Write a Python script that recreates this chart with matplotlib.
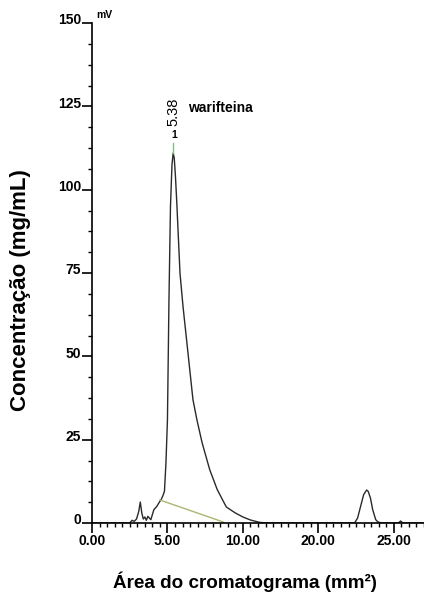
"""
Cromatograma da warifteina (reconstrucao do grafico).
"""

import matplotlib
matplotlib.use('Agg')
import matplotlib.pyplot as plt
import matplotlib.transforms as mtransforms
from matplotlib.ticker import MultipleLocator, FixedLocator

# sinal do detector (mV)
x_sig = [0.0, 2.5, 2.65, 2.8, 2.95, 3.1, 3.2, 3.3, 3.4, 3.5, 3.6, 3.7, 3.8, 3.9,
         4.0, 4.1, 4.2, 4.3, 4.4, 4.5, 4.6, 4.7, 4.8, 4.9, 5.0, 5.1, 5.2, 5.3,
         5.38, 5.45, 5.53, 5.62, 5.72, 5.83, 6.03, 6.36, 6.69, 6.95, 7.3, 7.8,
         8.3, 8.9, 9.5, 10.0, 10.5, 11.1, 11.5, 17.4, 17.6, 17.8, 18.0, 18.2,
         18.3, 18.45, 18.6, 18.8, 18.95, 19.2, 20.3, 20.45, 20.6, 22.0]
y_sig = [0.0, 0.0, 0.8, 0.5, 1.2, 3.5, 6.3, 3.0, 1.2, 1.8, 0.8, 2.0, 1.5, 1.0,
         2.5, 4.0, 4.5, 5.0, 5.8, 6.5, 7.2, 8.2, 9.5, 18.0, 31.0, 67.0, 95.0, 107.5,
         111.0, 109.5, 104.0, 96.0, 86.0, 75.0, 65.0, 51.0, 37.0, 31.0, 24.0, 16.0,
         10.0, 4.8, 3.0, 1.8, 0.9, 0.2, 0.0, 0.0, 1.5, 5.0, 8.5, 9.9,
         9.5, 7.5, 4.0, 1.0, 0.3, 0.0, 0.0, 0.6, 0.0, 0.0]

# linha de base do pico integrado
x_base = [4.5, 8.7]
y_base = [6.9, 0.3]

peak_rt = 5.38
peak_top = 111.0
peak_name = 'warifteina'

xtick_pos = [0, 5, 10, 15, 20]
xtick_lab = ['0.00', '5.00', '10.00', '20.00', '25.00']
ytick_pos = [0, 25, 50, 75, 100, 125, 150]

plt.rcParams['font.family'] = ['Liberation Sans', 'DejaVu Sans']

fig = plt.figure(figsize=(4.24, 5.97), dpi=100)
ax = fig.add_axes([92/424, 74/597, 332/424, 500/597])

ax.plot(x_sig, y_sig, color='#2a2a2a', lw=1.0)
ax.plot(x_base, y_base, color='#a8b870', lw=1.0)
ax.plot([peak_rt, peak_rt], [peak_top, peak_top + 3], color='#7fc07f', lw=1.0)

ax.set_xlim(0, 22)
ax.set_ylim(0, 150)

for s in ['top', 'right']:
    ax.spines[s].set_visible(False)
ax.spines['left'].set_linewidth(1.2)
ax.spines['bottom'].set_linewidth(1.2)

ax.xaxis.set_major_locator(FixedLocator(xtick_pos))
ax.set_xticklabels(xtick_lab)
ax.xaxis.set_minor_locator(MultipleLocator(0.5))
ax.yaxis.set_major_locator(FixedLocator(ytick_pos))
ax.yaxis.set_minor_locator(MultipleLocator(6.25))

ax.tick_params(axis='x', which='major', direction='out', length=7, width=1.2,
               labelsize=10, pad=1)
ax.tick_params(axis='x', which='minor', direction='out', length=3, width=1)
ax.tick_params(axis='y', which='major', direction='out', length=7, width=1.2,
               labelsize=10, pad=1)
ax.tick_params(axis='y', which='minor', direction='out', length=3, width=1)
for lab in ax.get_xticklabels() + ax.get_yticklabels():
    lab.set_fontweight('bold')
# rotulos do eixo y ficam um pouco acima do traco
up = mtransforms.ScaledTranslation(0, 3/72, fig.dpi_scale_trans)
for lab in ax.get_yticklabels():
    lab.set_transform(lab.get_transform() + up)

ax.text(0.3, 151.0, 'mV', fontsize=7.5, fontweight='bold', va='bottom', ha='left',
        clip_on=False)
ax.text(peak_rt + 0.05, 123.3, '%.2f' % peak_rt, rotation=90, fontsize=10.5,
        ha='center', va='center')
ax.text(peak_rt + 0.05, 116.4, '1', fontsize=7.5, fontweight='bold',
        ha='center', va='center')
ax.text(6.36, 124.5, peak_name, fontsize=10, fontweight='bold', ha='left',
        va='center')

fig.text(245/424, 1 - 582/597, 'Área do cromatograma (mm²)', fontsize=13.6,
         fontweight='bold', ha='center', va='center')
fig.text(21/424, 1 - 290/597, 'Concentração (mg/mL)', fontsize=16,
         fontweight='bold', ha='center', va='center', rotation=90)

fig.savefig('out.png', dpi=100)
